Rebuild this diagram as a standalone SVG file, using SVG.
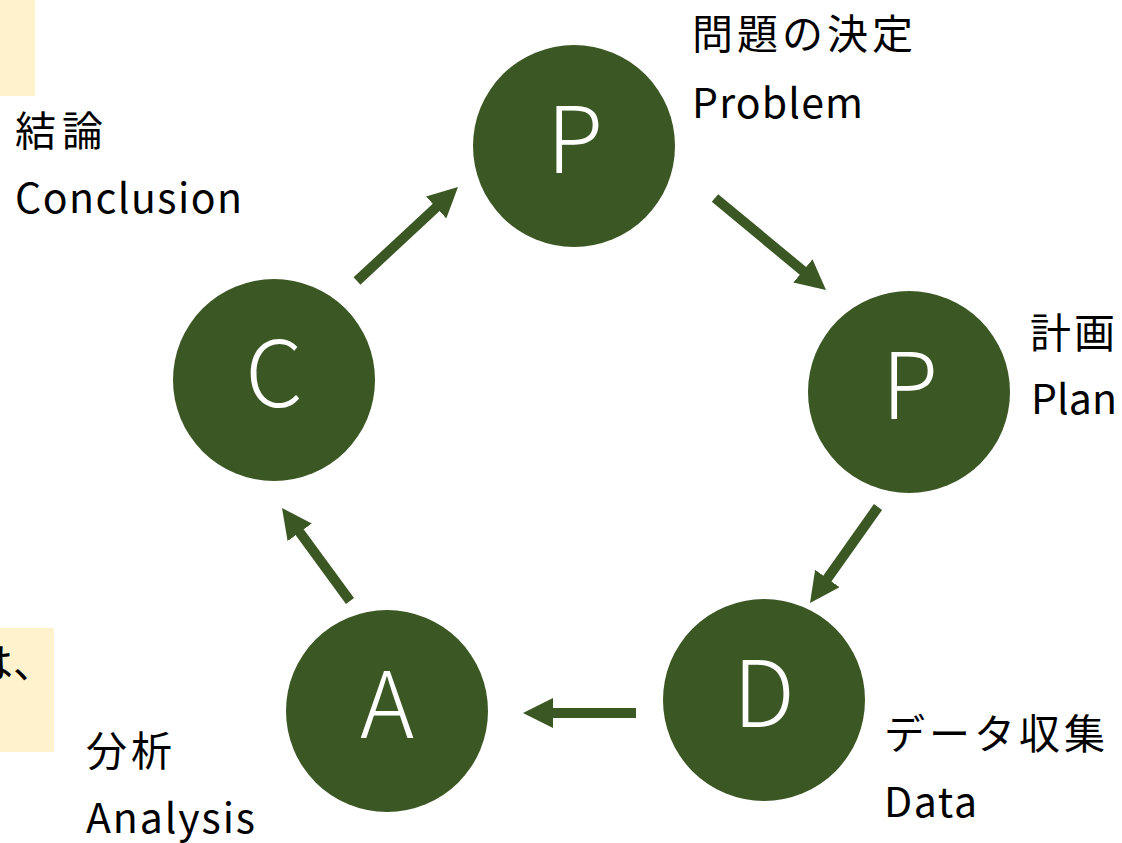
<svg xmlns="http://www.w3.org/2000/svg" width="1122" height="843" viewBox="0 0 1122 843">
<style>
.node{fill:#3B5723}
.ltr{fill:#fff;font-family:"Noto Sans CJK JP","Noto Sans",sans-serif;font-size:92px;font-weight:300;text-anchor:middle}
.lbl{fill:#000;font-family:"Noto Sans CJK JP","Noto Sans",sans-serif;font-size:41px}
.conn line{stroke:#3B5723;stroke-width:10;marker-end:url(#ah)}
</style>
<defs>
<marker id="ah" markerUnits="userSpaceOnUse" markerWidth="30" markerHeight="30" refX="20" refY="15" orient="auto">
<path d="M0,0 L30,15 L0,30 z" fill="#3B5723"/>
</marker>
</defs>
<rect width="1122" height="843" fill="#fff"/>
<rect x="0" y="0" width="35" height="96" fill="#FFF2CC"/>
<rect x="0" y="628" width="54" height="124" fill="#FFF2CC"/>
<text class="lbl" x="-28" y="678">は、</text>
<g id="node-p1"><circle class="node" cx="574" cy="146" r="101"/><text class="ltr" x="575" y="173">P</text>
<text class="lbl" x="692" y="49" textLength="221">問題の決定</text><text class="lbl" x="692" y="118" textLength="171">Problem</text></g>
<g id="node-p2"><circle class="node" cx="909" cy="392" r="101"/><text class="ltr" x="910" y="419">P</text>
<text class="lbl" x="1030" y="348" textLength="85">計画</text><text class="lbl" x="1031" y="414" textLength="86">Plan</text></g>
<g id="node-d"><circle class="node" cx="764" cy="700" r="101"/><text class="ltr" x="764" y="727">D</text>
<text class="lbl" x="884" y="749" textLength="221">データ収集</text><text class="lbl" x="884" y="817" textLength="93">Data</text></g>
<g id="node-a"><circle class="node" cx="387" cy="711" r="101"/><text class="ltr" x="387" y="738">A</text>
<text class="lbl" x="86" y="766" textLength="86">分析</text><text class="lbl" x="86" y="833" textLength="169">Analysis</text></g>
<g id="node-c"><circle class="node" cx="274" cy="380" r="101"/><text class="ltr" x="274" y="407">C</text>
<text class="lbl" x="15" y="146" textLength="88">結論</text><text class="lbl" x="15" y="213" textLength="227">Conclusion</text></g>
<g class="conn" id="connectors">
<line x1="357" y1="281" x2="450.7" y2="193.8"/>
<line x1="715" y1="198" x2="818.3" y2="283.6"/>
<line x1="878" y1="507" x2="815.8" y2="594.8"/>
<line x1="636" y1="713" x2="533" y2="713"/>
<line x1="350" y1="601" x2="287.9" y2="516.1"/>
</g>
</svg>
